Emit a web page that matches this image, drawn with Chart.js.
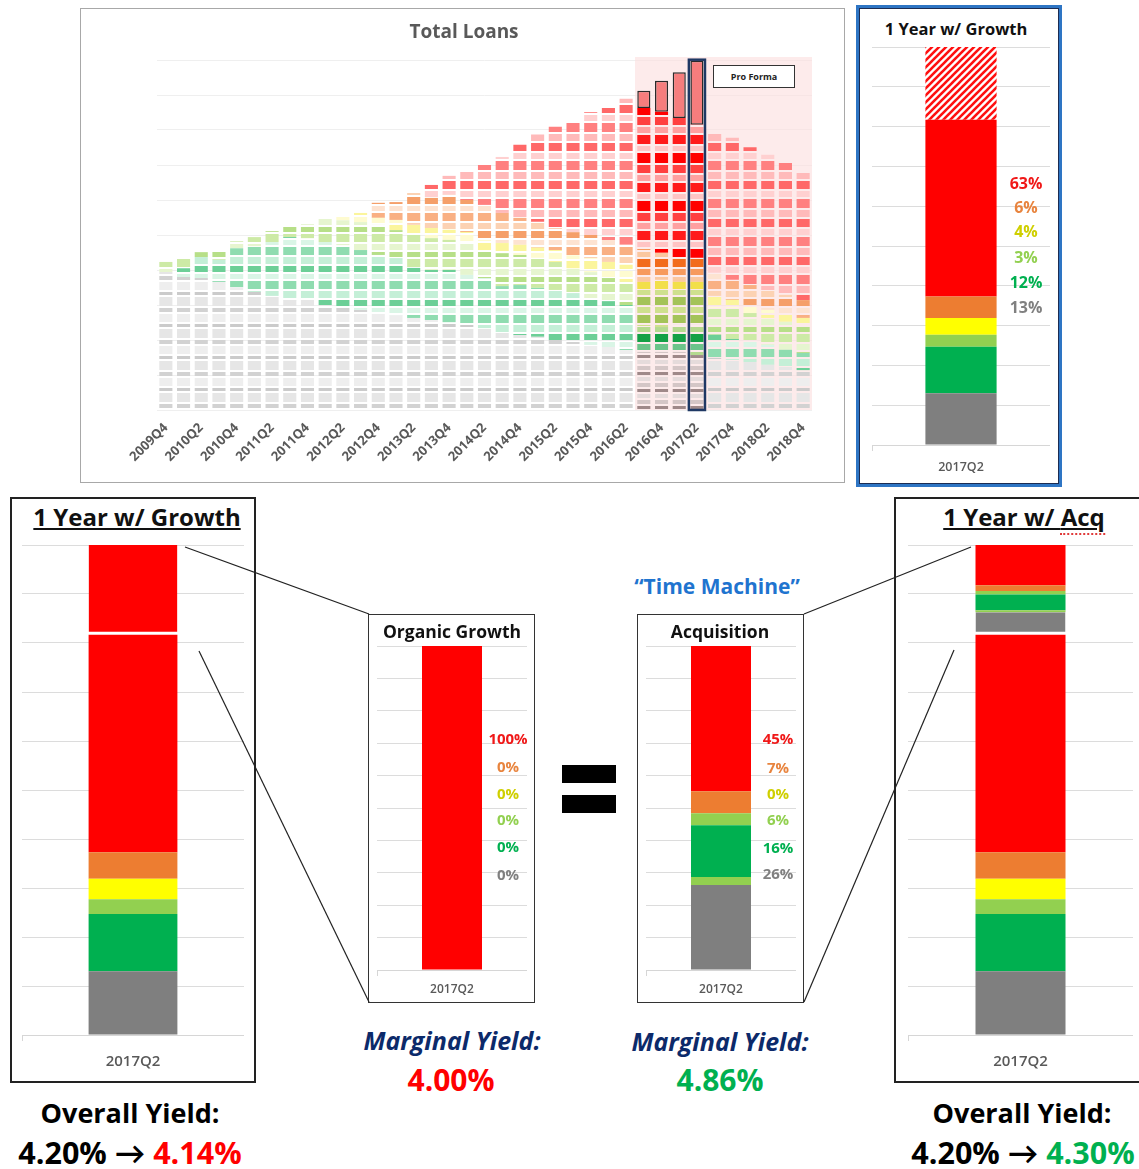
<!DOCTYPE html>
<html>
<head>
<meta charset="utf-8">
<script src="https://cdn.jsdelivr.net/npm/chart.js@4.4.1/dist/chart.umd.min.js"></script>
<style>
  body { margin:0; background:#fff; width:1139px; height:1169px; overflow:hidden; position:relative; font-family: "Open Sans", Lato, sans-serif; }
  .box { position:absolute; box-sizing:border-box; }
  canvas { position:absolute; }
  .txt { position:absolute; transform:translate(-50%,-50%); white-space:nowrap; font-weight:bold; line-height:1; }
  .pct { position:absolute; transform:translate(-50%,-50%); white-space:nowrap; font-weight:bold; line-height:1; }
  .eq { position:absolute; background:#000; width:54px; height:18px; left:562px; }
</style>
</head>
<body>

<!-- panels -->
<div class="box" style="left:80px;top:8px;width:765px;height:475px;border:1px solid #a8a8a8;"></div>
<div class="box" style="left:856px;top:5px;width:206px;height:482px;border:3px solid #2e75c4;box-shadow:inset 0 0 0 1px #1c2c52;"></div>
<div class="box" style="left:10px;top:497px;width:246px;height:586px;border:2px solid #222;"></div>
<div class="box" style="left:894px;top:497px;width:260px;height:586px;border:2px solid #222;"></div>
<div class="box" style="left:368px;top:614px;width:167px;height:389px;border:1.5px solid #333;"></div>
<div class="box" style="left:637px;top:614px;width:167px;height:389px;border:1.5px solid #333;"></div>

<canvas id="loans"></canvas>
<canvas id="growthTop"></canvas>
<canvas id="growthLeft"></canvas>
<canvas id="organic"></canvas>
<canvas id="acquisition"></canvas>
<canvas id="acqRight"></canvas>

<div class="box" style="left:713px;top:65px;width:82px;height:23px;border:1px solid #333;background:#fff;font:bold 9px 'Open Sans',sans-serif;display:flex;align-items:center;justify-content:center;color:#222;">Pro Forma</div>

<div class="txt" style="left:464px;top:31px;font-size:19px;color:#595959;">Total Loans</div>
<div class="txt" style="left:956px;top:29px;font-size:16.5px;color:#111;">1 Year w/ Growth</div>
<div class="txt" style="left:137px;top:517px;font-size:24px;color:#111;text-decoration:underline;">1 Year w/ Growth</div>
<div class="txt" style="left:1024px;top:517px;font-size:24px;color:#111;text-decoration:underline;">1 Year w/ <span style="border-bottom:2px dotted #e03a3a;">Acq</span></div>
<div class="txt" style="left:452px;top:632px;font-size:17.5px;color:#111;">Organic Growth</div>
<div class="txt" style="left:720px;top:632px;font-size:17.5px;color:#111;">Acquisition</div>
<div class="txt" style="left:717px;top:586px;font-size:21px;color:#1f74cf;">“Time Machine”</div>

<div class="eq" style="top:765px;"></div>
<div class="eq" style="top:795px;"></div>

<div class="txt" style="left:452px;top:1040px;font-size:25px;color:#0c2a6a;font-style:italic;">Marginal Yield:</div>
<div class="txt" style="left:451px;top:1080px;font-size:30px;color:#ff0000;">4.00%</div>
<div class="txt" style="left:720px;top:1041px;font-size:25px;color:#0c2a6a;font-style:italic;">Marginal Yield:</div>
<div class="txt" style="left:720px;top:1080px;font-size:30px;color:#00b050;">4.86%</div>

<div class="txt" style="left:130px;top:1112px;font-size:27px;color:#000;">Overall Yield:</div>
<div class="txt" style="left:130px;top:1152px;font-size:30.5px;color:#000;">4.20% → <span style="color:#ff0000;">4.14%</span></div>
<div class="txt" style="left:1022px;top:1112px;font-size:27px;color:#000;">Overall Yield:</div>
<div class="txt" style="left:1023px;top:1152px;font-size:30.5px;color:#000;">4.20% → <span style="color:#00b050;">4.30%</span></div>

<div id="labels"></div>

<svg width="1139" height="1169" style="position:absolute;left:0;top:0;pointer-events:none;">
  <g stroke="#222" stroke-width="1.2">
    <line x1="185" y1="547" x2="369" y2="614"/>
    <line x1="199" y1="651" x2="369" y2="1002"/>
    <line x1="971" y1="547" x2="804" y2="614"/>
    <line x1="954" y1="650" x2="804" y2="1002"/>
  </g>
</svg>

<script>
// ---- Total Loans: quarters and stacked bands (in gridline units) ----
const quarters = ['2009Q4','2010Q1','2010Q2','2010Q3','2010Q4','2011Q1','2011Q2','2011Q3','2011Q4',
  '2012Q1','2012Q2','2012Q3','2012Q4','2013Q1','2013Q2','2013Q3','2013Q4','2014Q1','2014Q2','2014Q3',
  '2014Q4','2015Q1','2015Q2','2015Q3','2015Q4','2016Q1','2016Q2','2016Q3','2016Q4','2017Q1','2017Q2',
  '2017Q3','2017Q4','2018Q1','2018Q2','2018Q3','2018Q4'];
const grayBand = [3.94,3.80,3.77,3.66,3.51,3.37,3.26,3.14,3.14,3.00,2.94,2.86,2.80,2.71,2.63,2.57,2.51,2.43,2.34,
  2.20,2.14,2.09,2.00,1.94,1.86,1.80,1.71,1.66,1.66,1.66,1.57,1.49,1.43,1.37,1.29,1.23,1.14];
const greenBand = [0,0.25,0.60,0.63,1.11,1.31,1.54,1.80,1.77,1.80,1.77,1.71,1.63,1.63,1.43,1.43,1.49,1.43,1.43,
  1.34,1.43,1.40,1.43,1.40,1.34,1.31,1.29,0.74,0.71,0.77,0.86,0.66,0.60,0.63,0.57,0.49,0.49];
const lightGreenBand = [0.29,0.29,0.14,0.25,0.20,0.26,0.31,0.34,0.40,0.69,0.71,0.80,0.86,0.80,0.94,0.91,0.86,0.94,0.80,
  0.94,0.86,0.86,0.80,0.71,0.74,0.66,0.66,1.03,1.06,1.00,1.00,0.77,0.89,0.77,0.77,0.80,0.80];
const yellowBand = [0,0,0,0,0,0,0,0,0,0,0.14,0.26,0.20,0.29,0.29,0.29,0.29,0.29,0.29,
  0.29,0.29,0.29,0.34,0.37,0.40,0.46,0.49,0.23,0.29,0.23,0.23,0.34,0.23,0.23,0.23,0.20,0.20];
const orangeBand = [0,0,0,0,0,0,0,0,0,0,0,0,0.43,0.51,0.91,0.86,1.00,0.91,1.00,
  0.86,0.77,0.74,0.63,0.66,0.66,0.63,0.57,0.94,0.77,0.71,0.69,0.66,0.57,0.57,0.57,0.57,0.51];
const redBand = [0,0,0,0,0,0,0,0,0,0,0,0,0,0,0,0.37,0.54,0.83,1.14,
  1.60,2.09,2.49,2.89,3.14,3.51,3.77,4.17,4.03,4.03,3.97,3.80,4.00,4.06,3.94,3.86,3.77,3.63];
const proForma = [null,null,null,null,null,null,null,null,null,null,null,null,null,null,null,null,null,null,null,
  null,null,null,null,null,null,null,null,0.49,0.89,1.31,1.83,null,null,null,null,null,null];
const highlightFrom = 27, highlightTo = 30, selectedQuarter = 30;

// ---- 2017Q2 column panels (gridline units), bottom to top ----
const mixSeries = ['Gray','Light Green (low)','Green','Light Green','Yellow','Orange','Red'];
const book2017Q2 = [1.30, 0, 1.17, 0.30, 0.42, 0.54, 4.44];
const organicAdd = [0, 0, 0, 0, 0, 0, 1.83];
const acqAdd = [0.46, 0.04, 0.32, 0.07, 0, 0.12, 0.82];
const organicMix = [0, 0, 0, 0, 0, 0, 10];
const acqMix = [2.62, 0.25, 1.60, 0.37, 0, 0.68, 4.48];
const growthPct = ['63%','6%','4%','3%','12%','13%'];
const organicPct = ['100%','0%','0%','0%','0%','0%'];
const acqPct = ['45%','7%','0%','6%','16%','26%'];

const mixColors = ['#7f7f7f','#92d050','#00b050','#92d050','#ffff00','#ed7d31','#ff0000'];
const pctColors = ['#f01818','#e8843e','#cfcf00','#92d050','#00b050','#808080'];
const FONT = '"Open Sans", Lato, sans-serif';

function stripes(rows) {
  const h = rows.reduce((s, r) => s + r[1], 0);
  const c = document.createElement('canvas');
  c.width = 4; c.height = h;
  const x = c.getContext('2d');
  let y = 0;
  rows.forEach(([col, rh]) => { if (col) { x.fillStyle = col; x.fillRect(0, y, 4, rh); } y += rh; });
  return x.createPattern(c, 'repeat');
}

function hatch() {
  const c = document.createElement('canvas');
  c.width = 7; c.height = 7;
  const x = c.getContext('2d');
  x.fillStyle = '#fff'; x.fillRect(0, 0, 7, 7);
  x.strokeStyle = '#ff1010'; x.lineWidth = 2.6;
  [[-7, 7, 7, -7], [0, 7, 7, 0], [0, 14, 14, 0]].forEach(([a, b, cc, d]) => {
    x.beginPath(); x.moveTo(a, b); x.lineTo(cc, d); x.stroke();
  });
  return x.createPattern(c, 'repeat');
}

const pale = {
  gray: stripes([['#e6e6e6',9],[null,2],['#d2d2d2',4],[null,2],['#eeeeee',8],[null,2],['#cbcbcb',3],[null,2]]),
  green: stripes([['#8fdcb0',8],[null,2],['#c4efd7',7],[null,2],['#6ccf97',6],[null,2],['#daf5e6',5],[null,2]]),
  lgreen: stripes([['#cdeaa6',8],[null,2],['#e6f5cf',6],[null,2],['#b7df88',5],[null,2]]),
  yellow: stripes([['#fbf59c',8],[null,2],['#fefbd0',6],[null,2]]),
  orange: stripes([['#f9b083',8],[null,2],['#fcd2b3',6],[null,2],['#f59f69',7],[null,2],['#fde3d1',5],[null,2]]),
  red: stripes([['#ff8080',9],[null,2],['#ffbaba',7],[null,2],['#ff6868',8],[null,2],['#ffd0d0',6],[null,2]])
};
const strong = {
  gray: stripes([['#d4c6c6',4],[null,2],['#9f8989',3],[null,2],['#e5dbdb',4],[null,2]]),
  green: stripes([['#14a046',8],[null,2],['#6cc48a',6],[null,2],['#b5d98f',5],[null,2]]),
  lgreen: stripes([['#a4c358',8],[null,2],['#cfe08e',6],[null,2]]),
  yellow: stripes([['#f2df4a',8],[null,2],['#f7ec8c',5],[null,2]]),
  orange: stripes([['#f26b1d',8],[null,2],['#f79a5e',6],[null,2],['#fbc7a0',5],[null,2]]),
  red: stripes([['#ff0000',10],[null,2],['#ff4040',8],[null,2],['#ffa0a0',6],[null,2],['#ff1a1a',9],[null,2],['#ffc4c4',5],[null,2]])
};
function bandColor(key) {
  return (c) => (c.dataIndex >= highlightFrom && c.dataIndex <= highlightTo) ? strong[key] : pale[key];
}

const proFormaShade = {
  id: 'proFormaShade',
  beforeDatasetsDraw(chart) {
    const xs = chart.scales.x, a = chart.chartArea;
    const half = (xs.getPixelForValue(1) - xs.getPixelForValue(0)) / 2;
    const x0 = xs.getPixelForValue(highlightFrom) - half;
    const ctx = chart.ctx;
    ctx.save();
    ctx.fillStyle = 'rgba(252,222,222,0.6)';
    ctx.fillRect(x0, a.top - 3, a.right - x0, a.bottom - a.top + 3);
    ctx.restore();
  }
};
const selectedOutline = {
  id: 'selectedOutline',
  afterDatasetsDraw(chart) {
    const meta = chart.getDatasetMeta(chart.data.datasets.length - 1);
    const bar = meta.data[selectedQuarter];
    const base = chart.scales.y.getPixelForValue(0);
    const ctx = chart.ctx;
    ctx.save();
    ctx.strokeStyle = '#1f3864'; ctx.lineWidth = 2.5;
    ctx.strokeRect(bar.x - bar.width / 2 - 1.5, bar.y - 1, bar.width + 3, base - bar.y + 1);
    ctx.restore();
  }
};

const loans = document.getElementById('loans');
loans.width = 763; loans.height = 473;
loans.style.left = '81px'; loans.style.top = '9px';
new Chart(loans, {
  type: 'bar',
  data: {
    labels: quarters,
    datasets: [
      { label: 'Gray', data: grayBand, backgroundColor: bandColor('gray') },
      { label: 'Green', data: greenBand, backgroundColor: bandColor('green') },
      { label: 'Light Green', data: lightGreenBand, backgroundColor: bandColor('lgreen') },
      { label: 'Yellow', data: yellowBand, backgroundColor: bandColor('yellow') },
      { label: 'Orange', data: orangeBand, backgroundColor: bandColor('orange') },
      { label: 'Red', data: redBand, backgroundColor: bandColor('red') },
      { label: 'Pro Forma', data: proForma, backgroundColor: '#f67d7d', borderColor: '#2a2a2a', borderWidth: 1.5, borderSkipped: false }
    ]
  },
  options: {
    responsive: false, animation: false, events: [],
    layout: { padding: { left: 76, right: 32, top: 51, bottom: 0 } },
    plugins: { legend: { display: false }, tooltip: { enabled: false } },
    datasets: { bar: { barPercentage: 0.74, categoryPercentage: 1 } },
    scales: {
      x: {
        stacked: true,
        grid: { display: false }, border: { display: false },
        ticks: { autoSkip: false, maxRotation: 45, minRotation: 45, padding: 2, color: '#595959',
          font: { family: FONT, size: 13, weight: 'bold' },
          callback: (v, i) => i % 2 === 0 ? quarters[i] : '' },
        afterFit: s => { s.height = 72; }
      },
      y: {
        stacked: true, min: 0, max: 10,
        ticks: { display: false, stepSize: 1 },
        grid: { color: '#efefef', drawTicks: false }, border: { display: false },
        afterFit: s => { s.width = 0; }
      }
    }
  },
  plugins: [proFormaShade, selectedOutline]
});

// ---- single-column panels ----
function panelDatasets(base, add, addStyle) {
  const ds = [];
  base.forEach((v, i) => ds.push({ label: mixSeries[i], data: [v], backgroundColor: mixColors[i] }));
  if (add) {
    const first = add.findIndex(v => v > 0);
    add.forEach((v, i) => {
      const d = { label: mixSeries[i] + ' (new)', data: [v], backgroundColor: addStyle || mixColors[i] };
      if (i === first && !addStyle) {
        d.borderColor = '#fff'; d.borderWidth = { top: 0, left: 0, right: 0, bottom: 3 }; d.borderSkipped = false;
      }
      ds.push(d);
    });
  }
  return ds;
}

function columnChart(id, box, datasets) {
  const el = document.getElementById(id);
  el.width = box.w; el.height = box.h;
  el.style.left = box.x + 'px'; el.style.top = box.y + 'px';
  return new Chart(el, {
    type: 'bar',
    data: { labels: ['2017Q2'], datasets },
    options: {
      responsive: false, animation: false, events: [],
      layout: { padding: { top: 3, left: 0, right: 0, bottom: 0 } },
      plugins: { legend: { display: false }, tooltip: { enabled: false } },
      datasets: { bar: { barPercentage: 0.4, categoryPercentage: 1 } },
      scales: {
        x: {
          stacked: true,
          grid: { drawOnChartArea: false, tickLength: 6, color: '#d6d6d6' },
          border: { color: '#d6d6d6' },
          ticks: { color: '#595959', padding: box.pad, font: { family: FONT, size: box.fs, weight: '600' } },
          afterFit: s => { s.height = box.axisH; }
        },
        y: {
          stacked: true, min: 0, max: 10,
          ticks: { display: false, stepSize: 1 },
          grid: { color: '#dcdcdc', drawTicks: false }, border: { display: false },
          afterFit: s => { s.width = 0; }
        }
      }
    }
  });
}

const hatchFill = hatch();
const growthTopSets = panelDatasets(book2017Q2, null);
growthTopSets.push({ label: 'Growth', data: [organicAdd[6]], backgroundColor: hatchFill });

columnChart('growthTop', { x: 872, y: 44, w: 178, h: 440, axisH: 39, pad: 9, fs: 12.5 }, growthTopSets);
columnChart('growthLeft', { x: 22, y: 542, w: 222, h: 537, axisH: 44, pad: 12, fs: 15 }, panelDatasets(book2017Q2, organicAdd));
columnChart('acqRight', { x: 908, y: 542, w: 225, h: 537, axisH: 44, pad: 12, fs: 15 }, panelDatasets(book2017Q2, acqAdd));
columnChart('organic', { x: 377, y: 643, w: 150, h: 356, axisH: 29, pad: 6, fs: 12 }, panelDatasets(organicMix, null));
columnChart('acquisition', { x: 646, y: 643, w: 150, h: 356, axisH: 29, pad: 6, fs: 12 }, panelDatasets(acqMix, null));

// ---- percentage labels beside the columns ----
function pctLabels(list, cx, ys, size) {
  const host = document.getElementById('labels');
  list.forEach((t, i) => {
    const d = document.createElement('div');
    d.className = 'pct';
    d.textContent = t;
    d.style.left = cx + 'px'; d.style.top = ys[i] + 'px';
    d.style.fontSize = size + 'px'; d.style.color = pctColors[i];
    host.appendChild(d);
  });
}
pctLabels(growthPct, 1026, [183, 207, 231, 257, 282, 307], 16);
pctLabels(organicPct, 508, [738, 766, 793, 819, 846, 874], 15);
pctLabels(acqPct, 778, [738, 767, 793, 819, 847, 873], 15);
</script>
</body>
</html>
